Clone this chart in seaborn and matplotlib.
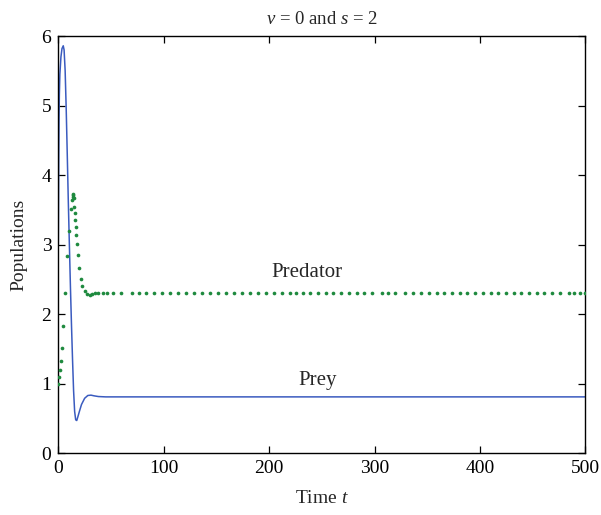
import matplotlib
matplotlib.use("Agg")
import matplotlib.pyplot as plt
import seaborn as sns
import pandas as pd

# Prey (solid line)
prey_t = [0, 0.2, 0.4, 0.7, 1.0, 1.5, 2.5, 3.5, 4.7, 5.5, 6.5, 7.5, 8.5, 9.5, 10.5,
          11.5, 12.5, 13.5, 14.5, 15.5, 16.5, 17.5, 18.5, 20, 22, 25, 28, 31, 34,
          38, 45, 60, 100, 200, 300, 400, 500]
prey_y = [3.0, 3.6, 4.2, 4.8, 5.15, 5.45, 5.7, 5.82, 5.86, 5.8, 5.5, 4.95, 4.3, 3.62,
          3.0, 2.4, 1.85, 1.35, 0.9, 0.6, 0.48, 0.47, 0.52, 0.6, 0.7, 0.79, 0.83,
          0.835, 0.825, 0.815, 0.81, 0.81, 0.81, 0.81, 0.81, 0.81, 0.81]

# Predator (dotted markers)
pred_t = [0, 0.9, 1.5, 2.1, 3.1, 4.7, 6.5, 8.7, 10.3, 11.9, 12.8, 13.5, 13.8, 14.4,
          14.7, 15.0, 15.7, 16.0, 16.6, 16.9, 17.5, 18.5, 20.0, 21.3, 22.9, 25.1,
          27.3, 29.8, 32.3, 34.8, 37.7,
          42.1, 46.4, 52.1, 59.1, 69.5, 76.1, 82.8, 90.7, 98.2, 105.8, 113.4, 120.8,
          128.5, 136.1, 143.7, 151.3, 158.8, 166.4, 173.8, 181.6, 189.1, 196.7,
          204.3, 211.8, 219.4, 225.8, 232.0, 239.0, 246.3, 253.5, 260.8, 268.0,
          275.3, 282.9, 290.2, 297.7, 307.2, 312.9, 319.5, 328.7, 336.9, 344.2,
          351.8, 359.0, 366.2, 373.5, 380.7, 388.0, 395.6, 402.8, 410.1, 417.4,
          424.6, 431.9, 439.4, 446.7, 454.0, 461.2, 468.5, 476.4, 484.3, 489.6,
          495.0, 500.0]
pred_y = [1.0, 1.1, 1.2, 1.32, 1.52, 1.83, 2.31, 2.83, 3.19, 3.51, 3.64, 3.71, 3.73,
          3.69, 3.67, 3.54, 3.46, 3.36, 3.26, 3.14, 3.01, 2.85, 2.66, 2.51, 2.41,
          2.33, 2.29, 2.28, 2.29, 2.30, 2.30,
          2.31, 2.31, 2.31, 2.31, 2.31, 2.31, 2.31, 2.31, 2.31, 2.31, 2.31, 2.31,
          2.31, 2.31, 2.31, 2.31, 2.31, 2.31, 2.31, 2.31, 2.31, 2.31,
          2.31, 2.31, 2.31, 2.31, 2.31, 2.31, 2.31, 2.31, 2.31, 2.31,
          2.31, 2.31, 2.31, 2.31, 2.31, 2.31, 2.31, 2.31, 2.31, 2.31,
          2.31, 2.31, 2.31, 2.31, 2.31, 2.31, 2.31, 2.31, 2.31, 2.31,
          2.31, 2.31, 2.31, 2.31, 2.31, 2.31, 2.31, 2.31, 2.31, 2.31,
          2.31, 2.31]

x_ticks = [0, 100, 200, 300, 400, 500]
y_ticks = [0, 1, 2, 3, 4, 5, 6]

sns.set_theme(style="ticks")
plt.rcParams["font.family"] = ["Liberation Serif", "DejaVu Serif"]
plt.rcParams["mathtext.fontset"] = "custom"
plt.rcParams["mathtext.rm"] = "Liberation Serif"
plt.rcParams["mathtext.it"] = "Liberation Serif:italic"

fig = plt.figure(figsize=(6.01, 5.15), dpi=100)
ax = fig.add_axes([0.097, 0.120, 0.877, 0.810])

prey_df = pd.DataFrame({"t": prey_t, "y": prey_y})
pred_df = pd.DataFrame({"t": pred_t, "y": pred_y})

sns.lineplot(data=prey_df, x="t", y="y", ax=ax, color="#3a5bbf", linewidth=1.1,
             sort=False, estimator=None)
sns.scatterplot(data=pred_df, x="t", y="y", ax=ax, color="#1e8a3e", s=7,
                linewidth=0, zorder=3)

ax.set_xlim(0, 500)
ax.set_ylim(0, 6)
ax.set_xticks(x_ticks)
ax.set_yticks(y_ticks)
ax.tick_params(direction="in", length=5, width=0.9, top=True, right=True,
               labelsize=14, colors="black", pad=5)
for sp in ax.spines.values():
    sp.set_visible(True)
    sp.set_linewidth(1.0)
    sp.set_color("black")

ax.set_title(r"$\nu$ = 0 and $s$ = 2", fontsize=13.5, pad=9)
ax.set_xlabel(r"Time $t$", fontsize=14, labelpad=9)
ax.set_ylabel("Populations", fontsize=14, labelpad=10)

ax.text(236, 2.6, "Predator", fontsize=15, ha="center", va="center")
ax.text(246, 1.04, "Prey", fontsize=15, ha="center", va="center")

fig.savefig("out.png", dpi=100)
